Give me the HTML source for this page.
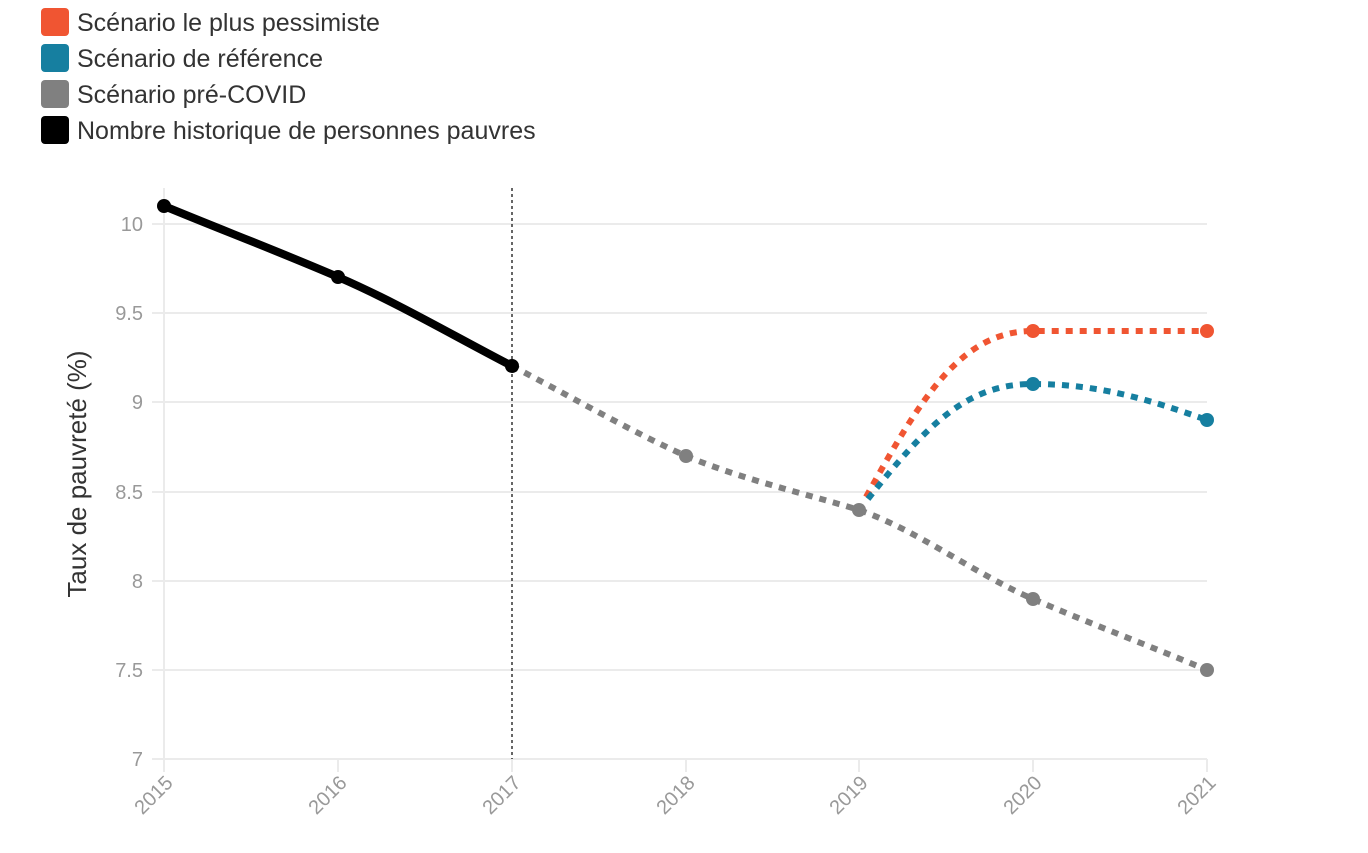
<!DOCTYPE html>
<html><head><meta charset="utf-8"><style>
body{margin:0;background:#fff;width:1368px;height:848px;overflow:hidden;font-family:"Liberation Sans",sans-serif}
</style></head><body>
<svg width="1368" height="848" xmlns="http://www.w3.org/2000/svg" font-family="Liberation Sans, sans-serif">
<g font-size="25" fill="#333">
<rect x="41" y="8" width="28" height="28" rx="4" fill="#f05532"/><text x="77" y="31">Scénario le plus pessimiste</text>
<rect x="41" y="44" width="28" height="28" rx="4" fill="#167fa0"/><text x="77" y="67">Scénario de référence</text>
<rect x="41" y="80" width="28" height="28" rx="4" fill="#808080"/><text x="77" y="103">Scénario pré-COVID</text>
<rect x="41" y="116" width="28" height="28" rx="4" fill="#000"/><text x="77" y="139">Nombre historique de personnes pauvres</text>
</g>
<g stroke="#ebebeb" stroke-width="2">
<line x1="152" x2="1207" y1="224" y2="224"/><line x1="152" x2="1207" y1="313" y2="313"/>
<line x1="152" x2="1207" y1="402" y2="402"/><line x1="152" x2="1207" y1="492" y2="492"/>
<line x1="152" x2="1207" y1="581" y2="581"/><line x1="152" x2="1207" y1="670" y2="670"/>
<line x1="152" x2="1207" y1="759" y2="759"/>
<line x1="164" x2="164" y1="188" y2="772"/>
<line x1="338" x2="338" y1="759" y2="772"/><line x1="512" x2="512" y1="759" y2="772"/>
<line x1="686" x2="686" y1="759" y2="772"/><line x1="859" x2="859" y1="759" y2="772"/>
<line x1="1033" x2="1033" y1="759" y2="772"/><line x1="1207" x2="1207" y1="759" y2="772"/>
</g>
<g font-size="20" fill="#999" text-anchor="end">
<text x="143" y="231">10</text><text x="143" y="320">9.5</text><text x="143" y="409">9</text>
<text x="143" y="499">8.5</text><text x="143" y="588">8</text><text x="143" y="677">7.5</text><text x="143" y="766">7</text>
</g>
<g font-size="20" fill="#999" text-anchor="end">
<text transform="translate(174,784) rotate(-45)">2015</text>
<text transform="translate(348,784) rotate(-45)">2016</text>
<text transform="translate(522,784) rotate(-45)">2017</text>
<text transform="translate(696,784) rotate(-45)">2018</text>
<text transform="translate(869,784) rotate(-45)">2019</text>
<text transform="translate(1043,784) rotate(-45)">2020</text>
<text transform="translate(1217,784) rotate(-45)">2021</text>
</g>
<text transform="translate(86,474) rotate(-90)" font-size="26" fill="#333" text-anchor="middle">Taux de pauvreté (%)</text>
<line x1="512" x2="512" y1="188" y2="759" stroke="#333" stroke-width="1.5" stroke-dasharray="3,3"/>
<g fill="none" stroke-width="6" stroke-dasharray="7,7">
<path d="M512,366 C570,396 628,430 686,456 C744,480 800,492 859,510 C917,530 975,574 1033,599 C1091,624 1150,646 1207,670" stroke="#808080"/>
<path d="M866,497 C920,400 960,331 1033,331 L1207,331" stroke="#f05532"/>
<path d="M868,499 C930,420 970,384 1033,384 C1100,384 1150,400 1207,420" stroke="#167fa0"/>
</g>
<path d="M164,206 C222,230 280,252 338,277 C396,302 454,336 512,366" fill="none" stroke="#000" stroke-width="8"/>
<g fill="#808080"><circle cx="686" cy="456" r="7"/><circle cx="859" cy="510" r="7"/><circle cx="1033" cy="599" r="7"/><circle cx="1207" cy="670" r="7"/></g>
<g fill="#f05532"><circle cx="1033" cy="331" r="7"/><circle cx="1207" cy="331" r="7"/></g>
<g fill="#167fa0"><circle cx="1033" cy="384" r="7"/><circle cx="1207" cy="420" r="7"/></g>
<g fill="#000"><circle cx="164" cy="206" r="7"/><circle cx="338" cy="277" r="7"/><circle cx="512" cy="366" r="7"/></g>
</svg>
</body></html>
